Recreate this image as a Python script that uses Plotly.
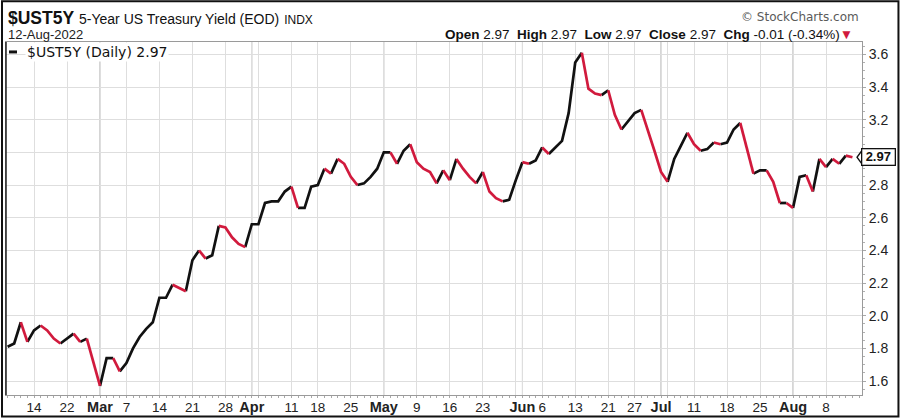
import pandas as pd
import plotly.graph_objects as go

# ---------------- data ----------------
start_date = "2022-02-08"
end_date = "2022-08-12"
market_holidays = ["2022-02-21", "2022-04-15", "2022-05-30", "2022-06-20", "2022-07-04"]

yield_close = [
    1.81, 1.83, 1.96, 1.84, 1.91, 1.94, 1.91, 1.86, 1.83, 1.86,
    1.89, 1.84, 1.86, 1.71, 1.57, 1.74, 1.74, 1.66, 1.71, 1.80,
    1.87, 1.92, 1.96, 2.11, 2.11, 2.19, 2.17, 2.15, 2.34, 2.40,
    2.35, 2.37, 2.55, 2.54, 2.48, 2.44, 2.42, 2.56, 2.56, 2.69,
    2.70, 2.70, 2.76, 2.79, 2.66, 2.66, 2.79, 2.80, 2.90, 2.87,
    2.96, 2.93, 2.85, 2.80, 2.81, 2.85, 2.90, 3.00, 3.00, 2.93,
    3.01, 3.05, 2.94, 2.90, 2.88, 2.81, 2.89, 2.83, 2.96, 2.90,
    2.85, 2.81, 2.88, 2.76, 2.72, 2.70, 2.71, 2.83, 2.94, 2.93,
    2.95, 3.03, 2.99, 3.03, 3.07, 3.24, 3.55, 3.61, 3.39, 3.36,
    3.35, 3.38, 3.23, 3.14, 3.19, 3.24, 3.26, 3.14, 3.01, 2.88,
    2.82, 2.96, 3.04, 3.12, 3.05, 3.01, 3.02, 3.06, 3.05, 3.06,
    3.14, 3.18, 3.02, 2.87, 2.89, 2.89, 2.82, 2.69, 2.69, 2.66,
    2.85, 2.86, 2.76, 2.96, 2.91, 2.96, 2.93, 2.98, 2.97,
]

tick_dates = [
    "2022-02-14", "2022-02-22", "2022-03-01", "2022-03-07", "2022-03-14",
    "2022-03-21", "2022-03-28", "2022-04-01", "2022-04-04", "2022-04-11",
    "2022-04-18", "2022-04-25", "2022-05-02", "2022-05-09", "2022-05-16",
    "2022-05-23", "2022-05-31", "2022-06-01", "2022-06-06", "2022-06-13",
    "2022-06-21", "2022-06-27", "2022-07-01", "2022-07-05", "2022-07-11",
    "2022-07-18", "2022-07-25", "2022-08-01", "2022-08-08",
]
tick_labels = [
    "14", "22", "Mar", "7", "14", "21", "28", "Apr", "", "11",
    "18", "25", "May", "9", "16", "23", "", "Jun", "6", "13",
    "21", "27", "Jul", "", "11", "18", "25", "Aug", "8",
]
month_line_dates = ["2022-03-01", "2022-04-01", "2022-05-02", "2022-06-01", "2022-07-01", "2022-08-01"]
y_ticks = [1.6, 1.8, 2.0, 2.2, 2.4, 2.6, 2.8, 3.0, 3.2, 3.4, 3.6]
y_tick_labels = ["1.6", "1.8", "2.0", "2.2", "2.4", "2.6", "2.8", "", "3.2", "3.4", "3.6"]

symbol = "$UST5Y"
title_text = "5-Year US Treasury Yield (EOD)"
exchange = "INDX"
date_text = "12-Aug-2022"

# ---------------- derived ----------------
trading_days = [d for d in pd.bdate_range(start_date, end_date)
                if d.strftime("%Y-%m-%d") not in market_holidays]
day_index = {d.strftime("%Y-%m-%d"): i for i, d in enumerate(trading_days)}
n = len(yield_close)
xs = list(range(len(trading_days)))[:n]

UP = "#111111"
DOWN = "#d11a3d"

# build runs of same-colored segments (black = rising, red = falling)
up_x, up_y, dn_x, dn_y = [], [], [], []
i = 0
while i < n - 1:
    rising = yield_close[i + 1] >= yield_close[i]
    j = i
    while j < n - 1 and (yield_close[j + 1] >= yield_close[j]) == rising:
        j += 1
    tx, ty = (up_x, up_y) if rising else (dn_x, dn_y)
    tx.extend(xs[i:j + 1] + [None])
    ty.extend(yield_close[i:j + 1] + [None])
    i = j

# ---------------- layout geometry ----------------
W, H = 900, 420
L, R, T, B = 5, 862, 42, 397


def px(xp):
    return (xp - L) / (R - L)


def py(yp):
    return (B - yp) / (B - T)


x_per_day = 6.608
x_first = 6.6
x_range = [(L - x_first) / x_per_day, (R - x_first) / x_per_day]
y_per_unit = 164.3
y_range = [1.6 - (B - 383) / y_per_unit, 1.6 + (383 - T) / y_per_unit]

fig = go.Figure()
fig.add_trace(go.Scatter(x=up_x, y=up_y, mode="lines",
                         line=dict(color=UP, width=2.7), hoverinfo="skip",
                         showlegend=False, connectgaps=False))
fig.add_trace(go.Scatter(x=dn_x, y=dn_y, mode="lines",
                         line=dict(color=DOWN, width=2.7), hoverinfo="skip",
                         showlegend=False, connectgaps=False))

tick_vals = [day_index[d] for d in tick_dates]
tick_text = []
for lab in tick_labels:
    if lab.isalpha():
        tick_text.append(f"<b><span style='font-size:14.5px'>{lab}</span></b>")
    else:
        tick_text.append(lab)

fig.update_layout(
    width=W, height=H,
    margin=dict(l=L, r=W - R, t=T, b=H - B, pad=0),
    paper_bgcolor="white", plot_bgcolor="white",
    font=dict(family="Liberation Sans, Arial, sans-serif", color="#222222", size=13),
    showlegend=False,
    xaxis=dict(
        range=x_range, tickmode="array", tickvals=tick_vals, ticktext=tick_text,
        showgrid=True, gridcolor="#dedede", gridwidth=1,
        zeroline=False, showline=True, linecolor="#9a9a9a", linewidth=1, mirror=True,
        ticks="", tickfont=dict(size=13.5, color="#222222"),
        minor=dict(tickmode="linear", tick0=0, dtick=1, ticks="outside",
                   ticklen=2, tickcolor="#a8a8a8", showgrid=False),
    ),
    yaxis=dict(
        range=y_range, side="right", tickmode="array", tickvals=y_ticks,
        ticktext=y_tick_labels,
        showgrid=True, gridcolor="#dedede", gridwidth=1,
        zeroline=False, showline=True, linecolor="#9a9a9a", linewidth=1, mirror=True,
        ticks="outside", ticklen=3, tickcolor="#a8a8a8",
        tickfont=dict(size=14, color="#222222"),
        minor=dict(tickmode="linear", tick0=1.6, dtick=0.05, ticks="outside",
                   ticklen=2, tickcolor="#b0b0b0", showgrid=False),
    ),
)

shapes = []
# darker month lines
for d in month_line_dates:
    shapes.append(dict(type="line", xref="x", yref="paper", x0=day_index[d], x1=day_index[d],
                       y0=0, y1=1, line=dict(color="#ababab", width=1), layer="below"))
# left plot border (dark)
shapes.append(dict(type="line", xref="paper", yref="paper", x0=0, x1=0, y0=0, y1=1,
                   line=dict(color="#222222", width=1.5)))
# outer frame
shapes.append(dict(type="rect", xref="paper", yref="paper",
                   x0=px(1), x1=px(898.5), y0=py(418.5), y1=py(1),
                   line=dict(color="#111111", width=2), fillcolor="rgba(0,0,0,0)"))
# legend dash
shapes.append(dict(type="line", xref="paper", yref="paper", x0=px(8), x1=px(16),
                   y0=py(52), y1=py(52), line=dict(color="#111111", width=3)))
# last value marker arrow tip
last = yield_close[-1]
h = 7.5 / y_per_unit
x_tip, x_box = px(857), px(862.5)
shapes.append(dict(type="path", xref="paper", yref="y",
                   path=f"M {x_tip},{last} L {x_box},{last + h} L {x_box},{last - h} Z",
                   fillcolor="white", line=dict(color="#111111", width=1.3), layer="above"))
fig.update_layout(shapes=shapes)

prev = yield_close[-2]
chg = last - prev
pct = chg / prev * 100

annotations = [
    dict(x=px(5), y=py(18), xref="paper", yref="paper", xanchor="left", yanchor="middle",
         showarrow=False,
         text=f"<b>{symbol}</b> <span style='font-size:14px'>{title_text}</span> "
              f"<span style='font-size:12px'>{exchange}</span>",
         font=dict(size=17.5, color="#111111", family="Liberation Sans, Arial, sans-serif")),
    dict(x=px(5), y=py(34), xref="paper", yref="paper", xanchor="left", yanchor="middle",
         showarrow=False, text=date_text,
         font=dict(size=13, color="#222222", family="Liberation Sans, Arial, sans-serif")),
    dict(x=px(861), y=py(17), xref="paper", yref="paper", xanchor="right", yanchor="middle",
         showarrow=False, text="© StockCharts.com",
         font=dict(size=12, color="#5a5a5a", family="DejaVu Sans, Verdana, sans-serif")),
    dict(x=px(855), y=py(34), xref="paper", yref="paper", xanchor="right", yanchor="middle",
         showarrow=False,
         text=(f"<b>Open</b> {last:.2f}  <b>High</b> {last:.2f}  <b>Low</b> {last:.2f}  "
               f"<b>Close</b> {last:.2f}  <b>Chg</b> {chg:+.2f} ({pct:+.2f}%)"
               f"<span style='color:{DOWN}'>▼</span>"),
         font=dict(size=13.5, color="#111111", family="Liberation Sans, Arial, sans-serif")),
    dict(x=px(24), y=py(52), xref="paper", yref="paper", xanchor="left", yanchor="middle",
         showarrow=False, text=f"{symbol} (Daily) {last:.2f}", bgcolor="white",
         borderpad=1,
         font=dict(size=14, color="#111111", family="DejaVu Sans, Verdana, sans-serif")),
    dict(x=px(878.5), y=last, xref="paper", yref="y", xanchor="center", yanchor="middle",
         showarrow=False, text=f"<b>{last:.2f}</b>", bgcolor="white",
         bordercolor="#111111", borderwidth=1.3, borderpad=0, width=32, height=15,
         font=dict(size=13, color="#111111", family="Liberation Sans, Arial, sans-serif")),
]
fig.update_layout(annotations=annotations)

fig.write_html(
    "out.html",
    config={"displayModeBar": False},
    post_script="document.body.style.margin='0';document.body.style.overflow='hidden';",
)
